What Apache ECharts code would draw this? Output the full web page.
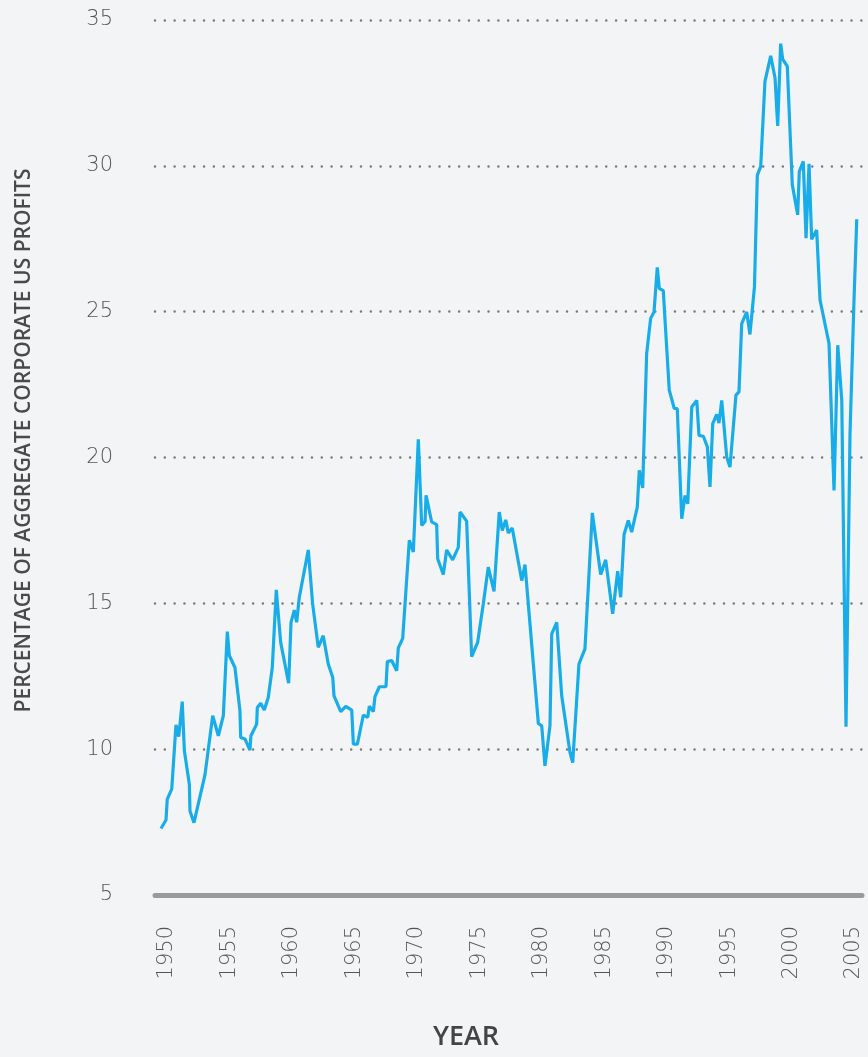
<!DOCTYPE html>
<html>
<head>
<meta charset="utf-8">
<title>Financial sector share of US corporate profits</title>
<script src="https://cdn.jsdelivr.net/npm/echarts@6/dist/echarts.min.js"></script>
<style>
  html, body { margin: 0; padding: 0; background: #f3f4f6; }
  #chart { width: 868px; height: 1057px; }
</style>
</head>
<body>
<div id="chart"></div>
<script>
// Data (year, percent of profits)
const years = [
  1949.52, 1949.92, 1950.02, 1950.38, 1950.72, 1950.94, 1951.22, 1951.39, 1951.79, 1951.84,
  1952.16, 1953.04, 1953.66, 1954.11, 1954.51, 1954.83, 1954.99, 1955.44, 1955.84, 1955.90,
  1956.24, 1956.64, 1956.72, 1957.18, 1957.23, 1957.50, 1957.79, 1958.11, 1958.43, 1958.75,
  1959.10, 1959.74, 1959.93, 1960.19, 1960.38, 1960.59, 1961.31, 1961.66, 1962.11, 1962.51,
  1962.91, 1963.27, 1963.37, 1963.91, 1964.31, 1964.79, 1964.92, 1965.24, 1965.72, 1966.07,
  1966.20, 1966.52, 1966.65, 1967.00, 1967.53, 1967.64, 1967.99, 1968.39, 1968.52, 1968.87,
  1969.40, 1969.72, 1970.12, 1970.39, 1970.66, 1970.74, 1971.19, 1971.59, 1971.67, 1972.12,
  1972.39, 1972.87, 1973.32, 1973.46, 1973.99, 1974.39, 1974.87, 1975.32, 1975.72, 1976.18,
  1976.60, 1976.84, 1977.12, 1977.32, 1977.64, 1978.40, 1978.66, 1979.73, 1980.00, 1980.26,
  1980.66, 1980.80, 1981.20, 1981.60, 1982.26, 1982.48, 1982.98, 1983.46, 1984.05, 1984.72,
  1985.12, 1985.68, 1986.08, 1986.32, 1986.59, 1986.93, 1987.20, 1987.65, 1987.81, 1988.08,
  1988.40, 1988.72, 1988.99, 1989.25, 1989.41, 1989.73, 1990.21, 1990.61, 1990.85, 1991.21,
  1991.47, 1991.69, 1992.01, 1992.41, 1992.59, 1992.94, 1993.26, 1993.47, 1993.69, 1994.01,
  1994.19, 1994.41, 1994.81, 1995.07, 1995.55, 1995.79, 1996.01, 1996.41, 1996.67, 1997.03,
  1997.26, 1997.53, 1997.87, 1998.33, 1998.68, 1998.89, 1999.13, 1999.29, 1999.66, 2000.06,
  2000.49, 2000.62, 2000.94, 2001.16, 2001.40, 2001.61, 2002.01, 2002.28, 2003.00, 2003.40,
  2003.70, 2004.02, 2004.36, 2004.68, 2005.00, 2005.22
];

const profitShare = [
  7.28, 7.57, 8.29, 8.63, 10.83, 10.43, 11.63, 9.95, 8.80, 7.88,
  7.48, 9.12, 11.15, 10.46, 11.15, 14.03, 13.21, 12.80, 11.32, 10.40,
  10.35, 9.97, 10.46, 10.86, 11.43, 11.57, 11.34, 11.78, 12.80, 15.46,
  13.66, 12.26, 14.35, 14.77, 14.35, 15.20, 16.83, 14.98, 13.49, 13.89,
  12.92, 12.46, 11.83, 11.29, 11.47, 11.34, 10.17, 10.17, 11.17, 11.09,
  11.47, 11.29, 11.80, 12.14, 12.14, 13.00, 13.04, 12.69, 13.47, 13.80,
  17.16, 16.76, 20.62, 17.67, 17.81, 18.70, 17.79, 17.70, 16.53, 15.99,
  16.83, 16.49, 16.92, 18.13, 17.82, 13.17, 13.66, 14.98, 16.24, 15.41,
  18.13, 17.50, 17.86, 17.41, 17.58, 15.78, 16.33, 10.88, 10.80, 9.43,
  10.80, 13.95, 14.35, 11.83, 9.89, 9.54, 12.92, 13.44, 18.10, 15.99,
  16.49, 14.64, 16.10, 15.21, 17.36, 17.84, 17.44, 18.30, 19.56, 18.96,
  23.56, 24.77, 24.99, 26.52, 25.80, 25.72, 22.31, 21.68, 21.68, 17.90,
  18.70, 18.41, 21.73, 21.96, 20.76, 20.73, 20.36, 18.99, 21.16, 21.48,
  21.18, 21.96, 20.02, 19.67, 22.14, 22.25, 24.59, 24.99, 24.22, 25.85,
  29.68, 29.97, 32.89, 33.77, 33.01, 31.37, 34.19, 33.66, 33.41, 29.35,
  28.32, 29.80, 30.15, 27.52, 30.07, 27.48, 27.80, 25.40, 23.91, 18.87,
  23.85, 21.96, 10.77, 20.82, 25.40, 28.17
];

const yearTicks = [1950, 1955, 1960, 1965, 1970, 1975, 1980, 1985, 1990, 1995, 2000, 2005];

const chart = echarts.init(document.getElementById('chart'));

const labelFont = 'DejaVu Sans';
const titleFont = 'Open Sans';

chart.setOption({
  backgroundColor: '#f3f4f6',
  animation: false,
  title: {
    text: 'YEAR',
    left: 461,
    top: 1019,
    textAlign: 'center',
    textStyle: {
      fontFamily: titleFont,
      fontWeight: 600,
      fontSize: 27,
      color: '#444'
    }
  },
  grid: {
    left: 155,
    right: 6,
    top: 20,
    bottom: 162
  },
  xAxis: {
    type: 'value',
    min: 1949.04,
    max: 2005.64,
    axisLine: {
      show: true,
      lineStyle: { color: '#9a9a9a', width: 5 }
    },
    axisTick: { show: false },
    splitLine: { show: false },
    axisLabel: {
      customValues: yearTicks,
      formatter: value => String(value),
      rotate: 90,
      margin: 31,
      fontFamily: labelFont,
      fontWeight: 300,
      fontSize: 21,
      color: '#555'
    }
  },
  yAxis: {
    type: 'value',
    min: 5,
    max: 35,
    interval: 5,
    name: 'PERCENTAGE OF AGGREGATE CORPORATE US PROFITS',
    nameLocation: 'middle',
    nameRotate: 90,
    nameGap: 120,
    nameTextStyle: {
      fontFamily: titleFont,
      fontWeight: 600,
      fontSize: 21,
      color: '#4a4a4a',
      padding: [0, 0, 0, 34]
    },
    axisLine: { show: false },
    axisTick: { show: false },
    axisLabel: {
      margin: 42,
      fontFamily: labelFont,
      fontWeight: 300,
      fontSize: 21,
      color: '#555'
    },
    splitLine: {
      show: true,
      lineStyle: {
        color: '#7a7a7a',
        width: 2.5,
        type: [0.01, 9.8],
        cap: 'round'
      }
    }
  },
  series: [{
    type: 'line',
    data: years.map((y, i) => [y, profitShare[i]]),
    showSymbol: false,
    lineStyle: { color: '#18ade9', width: 3.2 },
    itemStyle: { color: '#18ade9' }
  }]
});
</script>
</body>
</html>
